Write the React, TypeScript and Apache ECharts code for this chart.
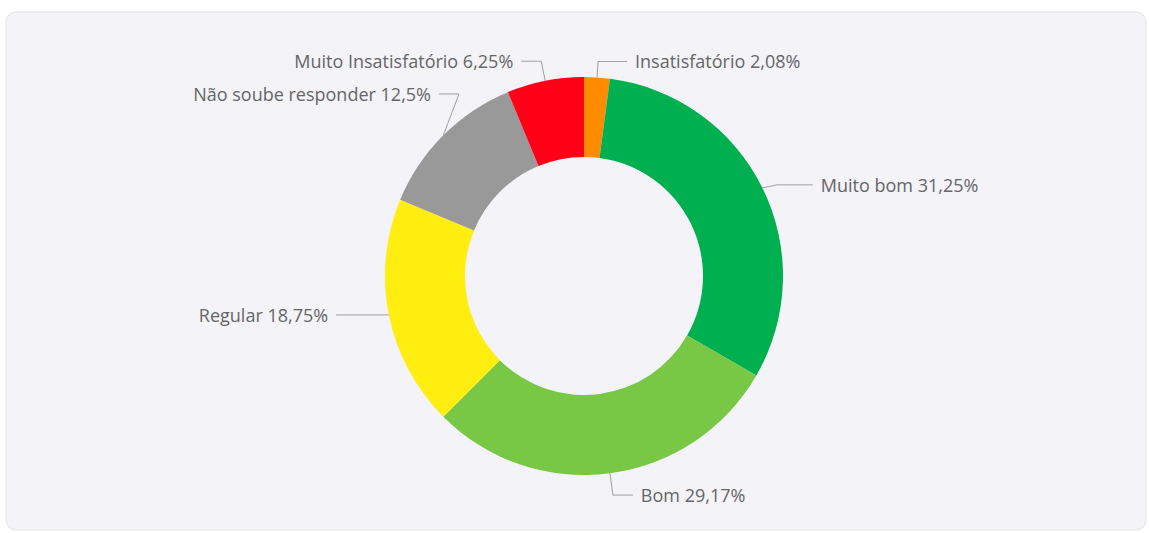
import React, { useEffect, useRef } from "react";
import * as echarts from "echarts";

const categories = [
  "Insatisfatório",
  "Muito bom",
  "Bom",
  "Regular",
  "Não soube responder",
  "Muito Insatisfatório",
];
const percentages = [2.08, 31.25, 29.17, 18.75, 12.5, 6.25];
const sliceColors = ["#ff8c00", "#00b050", "#78c846", "#ffee10", "#999999", "#ff0016"];

// leader line lengths per slice: [radial segment, horizontal segment]
const leaderLengths: Record<string, [number, number]> = {
  "Insatisfatório": [16, 29],
  "Muito bom": [16, 36],
  "Bom": [22, 20],
  "Regular": [16, 37],
  "Não soube responder": [16, 20],
  "Muito Insatisfatório": [20, 20],
};
// small label nudges [dx, dy]
const labelNudges: Record<string, [number, number]> = {
  "Não soube responder": [27, -30],
  "Muito bom": [0, 4],
  "Regular": [0, -3],
};

export default function App() {
  const ref = useRef<HTMLDivElement>(null);
  useEffect(() => {
    if (!ref.current) return;
    const chart = echarts.init(ref.current, null, { renderer: "svg" });
    chart.setOption({
      animation: false,
      backgroundColor: "#ffffff",
      graphic: [
        {
          type: "rect",
          z: -10,
          silent: true,
          shape: { x: 6, y: 12, width: 1140, height: 518, r: 10 },
          style: { fill: "#f3f3f8", stroke: "#e2e2e6", lineWidth: 1 },
        },
      ],
      series: [
        {
          type: "pie",
          center: [584, 276],
          radius: [119, 199],
          startAngle: 90,
          clockwise: true,
          avoidLabelOverlap: true,
          data: categories.map((c, i) => ({
            name: c,
            value: percentages[i],
            itemStyle: { color: sliceColors[i] },
            labelLine: { length: leaderLengths[c][0], length2: leaderLengths[c][1] },
          })),
          label: {
            show: true,
            position: "outside",
            color: "#666666",
            fontFamily: "Open Sans",
            fontSize: 18,
            distanceToLabelLine: 8,
            formatter: (p: any) => `${p.name} ${String(p.value).replace(".", ",")}%`,
          },
          labelLine: {
            show: true,
            lineStyle: { color: "#a0a0a0", width: 1 },
          },
          labelLayout: (p: any) => {
            const s = labelNudges[categories[p.dataIndex]];
            if (!s || !p.labelLinePoints) return {};
            const pts = p.labelLinePoints;
            return {
              dx: s[0],
              dy: s[1],
              labelLinePoints: [
                pts[0],
                [pts[1][0] + s[0], pts[1][1] + s[1]],
                [pts[2][0] + s[0], pts[2][1] + s[1]],
              ],
            };
          },
          emphasis: { disabled: true },
        },
      ],
    });
    return () => chart.dispose();
  }, []);
  return (
    <div
      ref={ref}
      style={{ position: "fixed", left: 0, top: 0, width: 1149, height: 533 }}
    />
  );
}
